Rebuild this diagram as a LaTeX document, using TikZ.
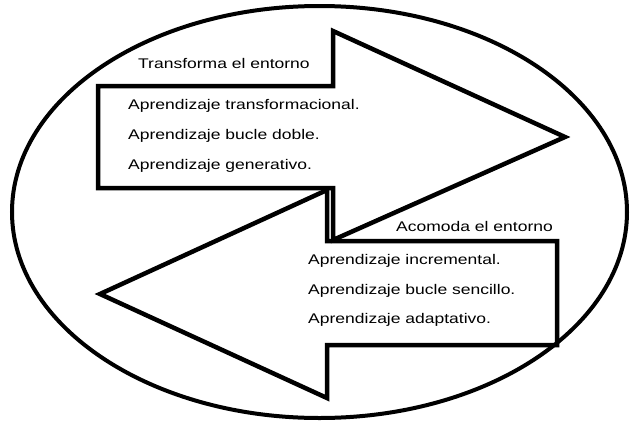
\documentclass[tikz,border=0pt]{standalone}
\usepackage{fontspec}
\newfontfamily\labelfont[FakeStretch=1.25]{Liberation Sans}
\begin{document}
\begin{tikzpicture}[x=1pt,y=-1pt,
  outline/.style={draw=black,line width=4pt},
  arrowshape/.style={draw=black,line width=4.5pt,line join=miter,miter limit=10},
  lbl/.style={anchor=base west,inner sep=0pt,font=\labelfont\fontsize{14}{16}\selectfont,text=black}]
\useasboundingbox (0,0) rectangle (630,421);
% enclosing ellipse
\draw[outline] (319.5,212) ellipse [x radius=307.5, y radius=206];
% right-pointing arrow (transforms the environment)
\draw[arrowshape] (98,86) -- (333,86) -- (333,31) -- (565,137) -- (333,240)
  -- (333,188) -- (98,188) -- cycle;
% left-pointing arrow (accommodates the environment)
\draw[arrowshape] (557,241) -- (327,241) -- (327,190) -- (100,294) -- (327,398)
  -- (327,345) -- (557,345) -- cycle;
% labels of the upper arrow
\node[lbl] (t0) at (138,68) {Transforma el entorno};
\node[lbl] (t1) at (128,109) {Aprendizaje transformacional.};
\node[lbl] (t2) at (128,139) {Aprendizaje bucle doble.};
\node[lbl] (t3) at (128,169) {Aprendizaje generativo.};
% labels of the lower arrow
\node[lbl] (a0) at (396,231) {Acomoda el entorno};
\node[lbl] (a1) at (308,264) {Aprendizaje incremental.};
\node[lbl] (a2) at (308,294) {Aprendizaje bucle sencillo.};
\node[lbl] (a3) at (308,323) {Aprendizaje adaptativo.};
\end{tikzpicture}
\end{document}
